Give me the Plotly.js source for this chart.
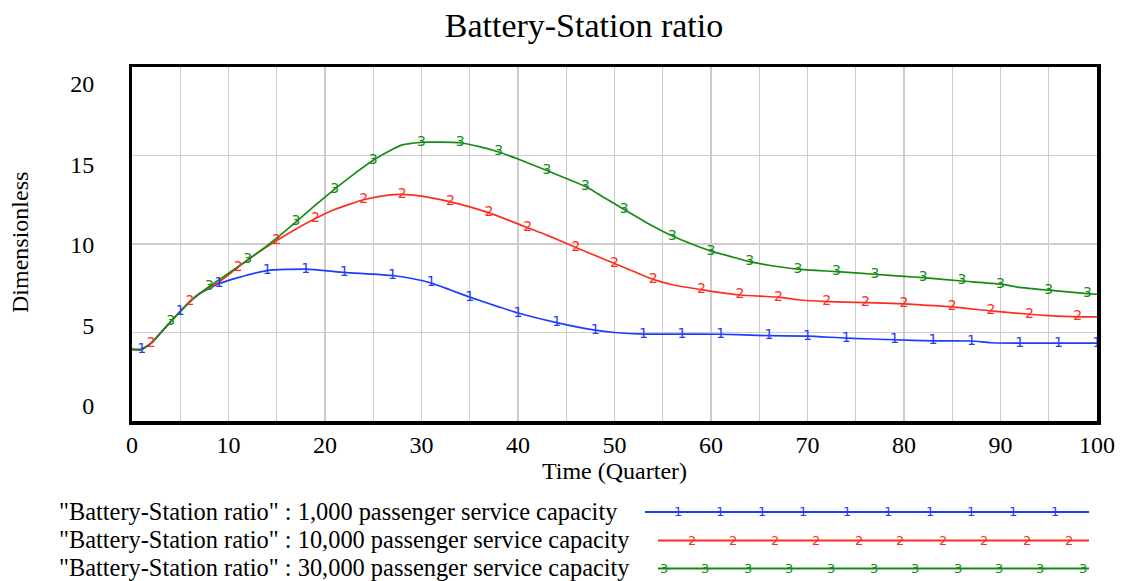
<!DOCTYPE html>
<html>
<head>
<meta charset="utf-8">
<script src="https://cdn.plot.ly/plotly-3.0.1.min.js"></script>
<style>html,body{margin:0;padding:0;background:#fff;}#chart{width:1121px;height:581px;}</style>
</head>
<body>
<div id="chart"></div>
<script>
// ---- Data ----
const chartTitle = "Battery-Station ratio";
const xTitle = "Time (Quarter)";
const yTitle = "Dimensionless";
const seriesNames = [
  '"Battery-Station ratio" : 1,000 passenger service capacity',
  '"Battery-Station ratio" : 10,000 passenger service capacity',
  '"Battery-Station ratio" : 30,000 passenger service capacity'
];
const seriesMarks = ["1", "2", "3"];

const time1 = [0,1,2,3,5,7,9,11,14,18,22,27,29,31,33,35,38,40,44,48,50,53,57,61,66,70,74,79,83,87,89,92,96,100];
const val1  = [4.05,4.05,4.4,5.0,6.2,7.2,7.75,8.1,8.5,8.58,8.4,8.22,8.05,7.8,7.4,7.0,6.45,6.1,5.56,5.13,5.0,4.91,4.91,4.9,4.82,4.8,4.68,4.59,4.53,4.52,4.42,4.4,4.4,4.4];
const marks1 = [1,5,9,14,18,22,27,31,35,40,44,48,53,57,61,66,70,74,79,83,87,92,96,100];

const time2 = [0,1,2,3,5,6,7,9,11,13,15,17,19,21,24,26,28,30,33,35,37,39,41,43,46,48,50,52,54,56,59,61,63,65,67,69,72,76,80,82,85,89,93,95,98,100];
const val2  = [4.05,4.05,4.4,5.0,6.2,6.75,7.2,7.85,8.7,9.5,10.2,10.85,11.44,11.95,12.5,12.72,12.8,12.7,12.38,12.1,11.76,11.35,10.92,10.5,9.8,9.35,8.9,8.45,8.0,7.7,7.42,7.25,7.12,7.05,7.0,6.85,6.75,6.69,6.62,6.55,6.45,6.22,6.03,5.95,5.88,5.88];
const marks2 = [2,6,11,15,19,24,28,33,37,41,46,50,54,59,63,67,72,76,80,85,89,93,98];

const time3 = [0,1,2,3,4,6,8,10,12,14,17,19,21,23,25,27,28,30,34,36,38,40,43,45,47,49,51,54,56,58,60,62,64,66,69,73,77,80,82,86,90,92,95,99,100];
const val3  = [4.05,4.05,4.4,5.0,5.6,6.75,7.6,8.35,9.1,9.9,11.25,12.2,13.1,13.95,14.73,15.35,15.6,15.75,15.72,15.5,15.2,14.8,14.15,13.7,13.25,12.6,11.95,11.0,10.45,10.0,9.6,9.3,9.0,8.8,8.58,8.44,8.29,8.17,8.1,7.91,7.73,7.55,7.39,7.2,7.16];
const marks3 = [4,8,12,17,21,25,30,34,38,43,47,51,56,60,64,69,73,77,82,86,90,95,99];

const xTickVals = [0,10,20,30,40,50,60,70,80,90,100];
const yTickVals = [0,5,10,15,20];

// ---- Styling ----
const colors = ["rgb(30,60,255)", "rgb(255,45,30)", "rgb(20,140,20)"];
const serif = "Liberation Serif, Times New Roman, serif";
const gridCol = "#cccccc";

// pixel -> paper helpers (plot area: x 132..1097, y 67..421)
const L = 132, R = 1097, T = 67, B = 421;
const px = X => (X - L) / (R - L);
const py = Y => (B - Y) / (B - T);

const allTimes = [time1, time2, time3];
const allVals = [val1, val2, val3];
const allMarks = [marks1, marks2, marks3];

const traces = [];
for (let i = 0; i < 3; i++) {
  traces.push({
    x: allTimes[i], y: allVals[i], type: "scatter", mode: "lines",
    line: {color: colors[i], width: 1.7, shape: "spline", smoothing: 0.5},
    name: seriesNames[i], showlegend: false, hoverinfo: "skip"
  });
}
for (let i = 0; i < 3; i++) {
  const mx = [], my = [];
  allMarks[i].forEach(t => {
    const k = allTimes[i].indexOf(t);
    if (k >= 0) { mx.push(t); my.push(allVals[i][k]); }
  });
  traces.push({
    x: mx, y: my, type: "scatter", mode: "text",
    text: mx.map(() => seriesMarks[i]), textposition: "middle center",
    textfont: {family: "DejaVu Sans, sans-serif", size: 14, color: colors[i]},
    showlegend: false, hoverinfo: "skip"
  });
}
// empty trace so the label axis exists
traces.push({x: [], y: [], yaxis: "y2", type: "scatter", mode: "lines", showlegend: false, hoverinfo: "skip"});

// ---- Legend (drawn below the chart) ----
const legendRowsY = [511, 539.5, 567.5];
const legendLineStart = [645, 658, 658];
const legendLineEnd = 1089;
const legendMarkX = [
  [678,719.5,762,803,846.5,888,930,971,1013,1054.5],
  [692,733,775,816,859,900,943,984,1027,1069],
  [663.5,705,747.5,789,831,874,915,958,999,1040,1083]
];
const shapes = [];
const annotations = [];
for (let i = 0; i < 3; i++) {
  annotations.push({
    xref: "paper", yref: "paper", x: px(57), y: py(legendRowsY[i]),
    xanchor: "left", yanchor: "middle", showarrow: false,
    text: seriesNames[i], font: {family: serif, size: 24.4, color: "#000"}
  });
  shapes.push({
    type: "line", xref: "paper", yref: "paper",
    x0: px(legendLineStart[i]), x1: px(legendLineEnd),
    y0: py(legendRowsY[i] + 1), y1: py(legendRowsY[i] + 1),
    line: {color: colors[i], width: 2}
  });
  legendMarkX[i].forEach(X => {
    annotations.push({
      xref: "paper", yref: "paper", x: px(X), y: py(legendRowsY[i] + 1),
      xanchor: "center", yanchor: "middle", showarrow: false,
      text: seriesMarks[i], font: {family: "DejaVu Sans, sans-serif", size: 13, color: colors[i]}
    });
  });
}

const layout = {
  width: 1121, height: 581,
  margin: {l: L, r: 1121 - R, t: T, b: 581 - B, pad: 0},
  paper_bgcolor: "#fff", plot_bgcolor: "#fff",
  showlegend: false,
  title: {text: chartTitle, font: {family: serif, size: 34, color: "#000"},
          x: 584 / 1121, xref: "container", xanchor: "center",
          y: 1 - 25 / 581, yref: "container", yanchor: "middle"},
  xaxis: {
    range: [0, 100], tickvals: xTickVals, ticktext: xTickVals.map(String),
    showgrid: true, gridcolor: gridCol, gridwidth: 1.3,
    minor: {dtick: 5, tick0: 0, showgrid: true, gridcolor: gridCol, gridwidth: 1.3},
    zeroline: false, showline: true, linecolor: "#000", linewidth: 3.5, mirror: true,
    ticks: "",
    tickfont: {family: serif, size: 24, color: "#000"},
    title: {text: xTitle, font: {family: serif, size: 24, color: "#000"}, standoff: 0},
    fixedrange: true
  },
  yaxis: {
    range: [0, 20], tickvals: yTickVals, showticklabels: false,
    showgrid: true, gridcolor: gridCol, gridwidth: 1.3,
    zeroline: false, showline: true, linecolor: "#000", linewidth: 3.5, mirror: true,
    ticks: "",
    title: {text: ""},
    fixedrange: true
  },
  yaxis2: {
    overlaying: "y", side: "left", anchor: "x",
    range: [-0.93, 21.06], tickvals: yTickVals, ticktext: yTickVals.map(String),
    showgrid: false, zeroline: false, showline: false,
    ticks: "outside", ticklen: 32, tickcolor: "rgba(0,0,0,0)",
    tickfont: {family: serif, size: 24, color: "#000"},
    fixedrange: true
  },
  shapes: shapes,
  annotations: annotations.concat([{
    xref: "paper", yref: "paper", x: px(20), y: py(243),
    xanchor: "center", yanchor: "middle", showarrow: false, textangle: -90,
    text: yTitle, font: {family: serif, size: 24, color: "#000"}
  }])
};

Plotly.newPlot("chart", traces, layout, {staticPlot: true, displayModeBar: false});
</script>
</body>
</html>
